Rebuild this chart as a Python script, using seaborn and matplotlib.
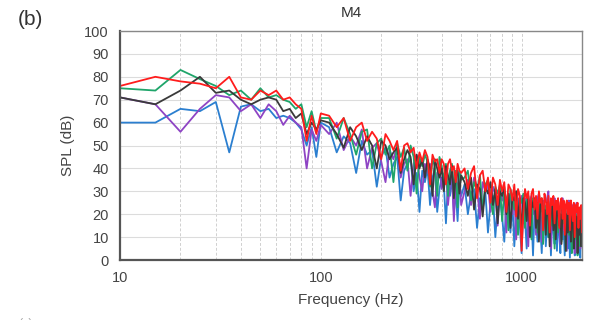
import numpy as np
import pandas as pd
import matplotlib
matplotlib.use('Agg')
import matplotlib.pyplot as plt
from matplotlib.ticker import LogLocator, NullFormatter, FixedLocator, FixedFormatter
import seaborn as sns

sns.set_style("white")
plt.rcParams['font.family'] = ['Liberation Sans', 'DejaVu Sans']

# frequency grid (Hz): fine below 100 Hz, coarser above
freq = np.concatenate([np.arange(10, 101, 5), np.arange(110, 501, 10), np.arange(520, 2001, 20)])

# SPL values (dB), per series
blue = [60, 60, 66, 65, 69, 47, 67, 68, 65, 66, 62, 63, 62, 60, 57, 50, 58, 45, 60,
        58, 47, 54, 51, 38, 52, 46, 48, 32, 45, 49, 36, 42, 45, 26, 39, 42, 44, 30, 38,
        21, 39, 34, 40, 24, 36, 40, 21, 31, 36, 33, 16, 34, 28, 36, 21, 30, 17, 33, 28,
        33, 20, 29, 31, 14, 27, 22, 30, 12, 25,
        28, 10, 24, 27, 19, 8, 26, 22, 12, 25, 6, 21, 24, 15, 3,
        22, 18, 5, 23, 12, 20, 2, 21, 17, 8, 22, 14, 3, 19, 21, 6, 17, 10, 20, 2, 18, 13, 7, 19, 4,
        17, 12, 3, 18, 9, 15, 2, 17, 11, 5, 16, 1, 14, 17, 6, 12, 2, 15, 9, 16, 3, 13, 1, 14, 6]
purple = [71, 68, 56, 66, 72, 71, 65, 68, 62, 68, 65, 59, 63, 60, 58, 40, 57, 52, 59,
          55, 60, 48, 54, 50, 57, 40, 49, 51, 43, 34, 48, 44, 50, 36, 42, 44, 28, 42, 46,
          36, 30, 42, 38, 42, 30, 23, 38, 40, 31, 36, 40, 24, 33, 37, 17, 35, 31, 38, 24,
          30, 35, 24, 36, 32, 18, 34, 30, 33, 21,
          32, 29, 15, 31, 26, 30, 12, 29, 27, 20, 28, 9, 27, 24, 28,
          16, 27, 25, 6, 26, 28, 20, 25, 11, 27, 29, 23, 8, 26, 24, 14, 27, 30, 17, 5, 25, 22, 27, 10, 24,
          26, 19, 7, 25, 27, 13, 24, 21, 4, 23, 26, 16, 22, 8, 24, 20, 3, 22, 25, 12, 21, 18, 5, 22, 14]
green = [75, 74, 83, 79, 76, 72, 74, 70, 75, 71, 72, 70, 69, 66, 68, 58, 65, 56, 62,
         62, 53, 62, 55, 46, 56, 57, 40, 51, 53, 46, 50, 34, 51, 45, 49, 39, 50, 45, 29,
         45, 41, 46, 43, 32, 44, 41, 28, 45, 41, 35, 42, 28, 39, 42, 30, 39, 23, 39, 35,
         36, 39, 26, 34, 30, 37, 22, 33, 35, 27,
         20, 32, 29, 33, 17, 30, 27, 13, 31, 28, 22, 30, 11, 27, 25,
         29, 14, 26, 28, 20, 9, 27, 24, 26, 12, 25, 21, 27, 7, 24, 19, 25, 10, 23, 26, 15, 22, 5, 21, 23,
         12, 22, 19, 8, 23, 16, 21, 4, 20, 22, 11, 19, 15, 3, 21, 18, 9, 20, 13, 2, 19, 17, 6, 18, 10]
black = [71, 68, 74, 80, 73, 74, 70, 68, 70, 71, 70, 65, 66, 62, 64, 55, 60, 57, 61,
         60, 55, 49, 58, 54, 48, 54, 50, 40, 52, 50, 44, 47, 49, 38, 44, 48, 45, 33, 46,
         40, 44, 36, 44, 40, 28, 44, 40, 36, 40, 30, 41, 37, 33, 41, 27, 37, 39, 29, 37,
         34, 28, 36, 22, 33, 31, 19, 32, 29, 34,
         24, 31, 16, 30, 28, 32, 20, 29, 14, 28, 26, 30, 18, 27, 12,
         27, 25, 17, 28, 10, 26, 23, 27, 14, 25, 8, 24, 26, 19, 22, 11, 25, 21, 6, 23, 24, 13, 22, 9, 21,
         23, 15, 20, 7, 22, 18, 21, 4, 20, 12, 21, 17, 8, 19, 20, 5, 18, 14, 19, 3, 17, 11, 18, 6, 15]
red = [76, 80, 78, 77, 75, 80, 71, 70, 74, 72, 74, 70, 71, 68, 66, 52, 63, 55, 64,
       63, 58, 62, 52, 58, 60, 52, 56, 53, 44, 55, 52, 48, 52, 39, 50, 51, 47, 49, 40,
       47, 43, 48, 45, 33, 46, 43, 44, 38, 44, 42, 33, 42, 44, 39, 41, 34, 42, 39, 38,
       40, 31, 38, 41, 27, 37, 39, 30, 36, 25,
       36, 33, 24, 35, 30, 34, 21, 33, 31, 26, 33, 19, 31, 28, 4,
       20, 31, 27, 30, 15, 29, 31, 22, 28, 18, 30, 25, 27, 13, 29, 26, 20, 28, 12, 27, 24, 28, 16, 26, 22,
       27, 14, 25, 27, 18, 26, 11, 24, 26, 20, 25, 13, 26, 22, 17, 25, 10, 24, 21, 25, 14, 23, 18, 24, 12]

series = {'blue': blue, 'purple': purple, 'green': green, 'black': black, 'red': red}
colors = {'blue': '#2b7fd0', 'purple': '#8e44c4', 'green': '#1fa56a', 'black': '#3a3a3a', 'red': '#ff1c1c'}

df = pd.concat([pd.DataFrame({'freq': freq, 'spl': v, 'mic': k}) for k, v in series.items()])

fig = plt.figure(figsize=(5.93, 3.2), dpi=100)
ax = fig.add_axes([0.2024, 0.1875, 0.7791, 0.7156])

sns.lineplot(data=df, x='freq', y='spl', hue='mic', hue_order=list(series.keys()),
             palette=colors, linewidth=1.3, legend=False, ax=ax, estimator=None, sort=False)

ax.set_xscale('log')
ax.set_xlim(10, 2000)
ax.set_ylim(0, 100)
ax.yaxis.set_major_locator(FixedLocator(np.arange(0, 101, 10)))
ax.xaxis.set_major_locator(FixedLocator([10, 100, 1000]))
ax.xaxis.set_major_formatter(FixedFormatter(['10', '100', '1000']))
ax.xaxis.set_minor_locator(LogLocator(base=10, subs=np.arange(2, 10)))
ax.xaxis.set_minor_formatter(NullFormatter())

ax.grid(axis='y', which='major', color='#dcdcdc', linewidth=0.8, linestyle='-')
ax.grid(axis='x', which='both', color='#d0d0d0', linewidth=0.7, linestyle=(0, (3, 2)))
ax.set_axisbelow(True)

ax.tick_params(axis='both', which='both', direction='inout', colors='#666666',
               labelcolor='#444444', labelsize=10.5, pad=5)
ax.tick_params(axis='both', which='major', length=6, width=0.8)
ax.tick_params(axis='x', which='minor', length=4, width=0.7)

for s in ['left', 'bottom']:
    ax.spines[s].set_color('#555555')
    ax.spines[s].set_linewidth(1.6)
for s in ['top', 'right']:
    ax.spines[s].set_color('#888888')
    ax.spines[s].set_linewidth(1.0)

ax.set_xlabel('Frequency (Hz)', fontsize=11, color='#444444', labelpad=6)
ax.set_ylabel('SPL (dB)', fontsize=11, color='#444444', labelpad=7)
ax.set_title('M4', fontsize=11, color='#333333', pad=10)

fig.text(0.03, 0.94, '(b)', fontsize=15, color='#333333', va='center')
fig.text(0.03, -0.012, '(c)', fontsize=9, color='#aaaaaa', va='center')

fig.savefig('out.png', dpi=100)
